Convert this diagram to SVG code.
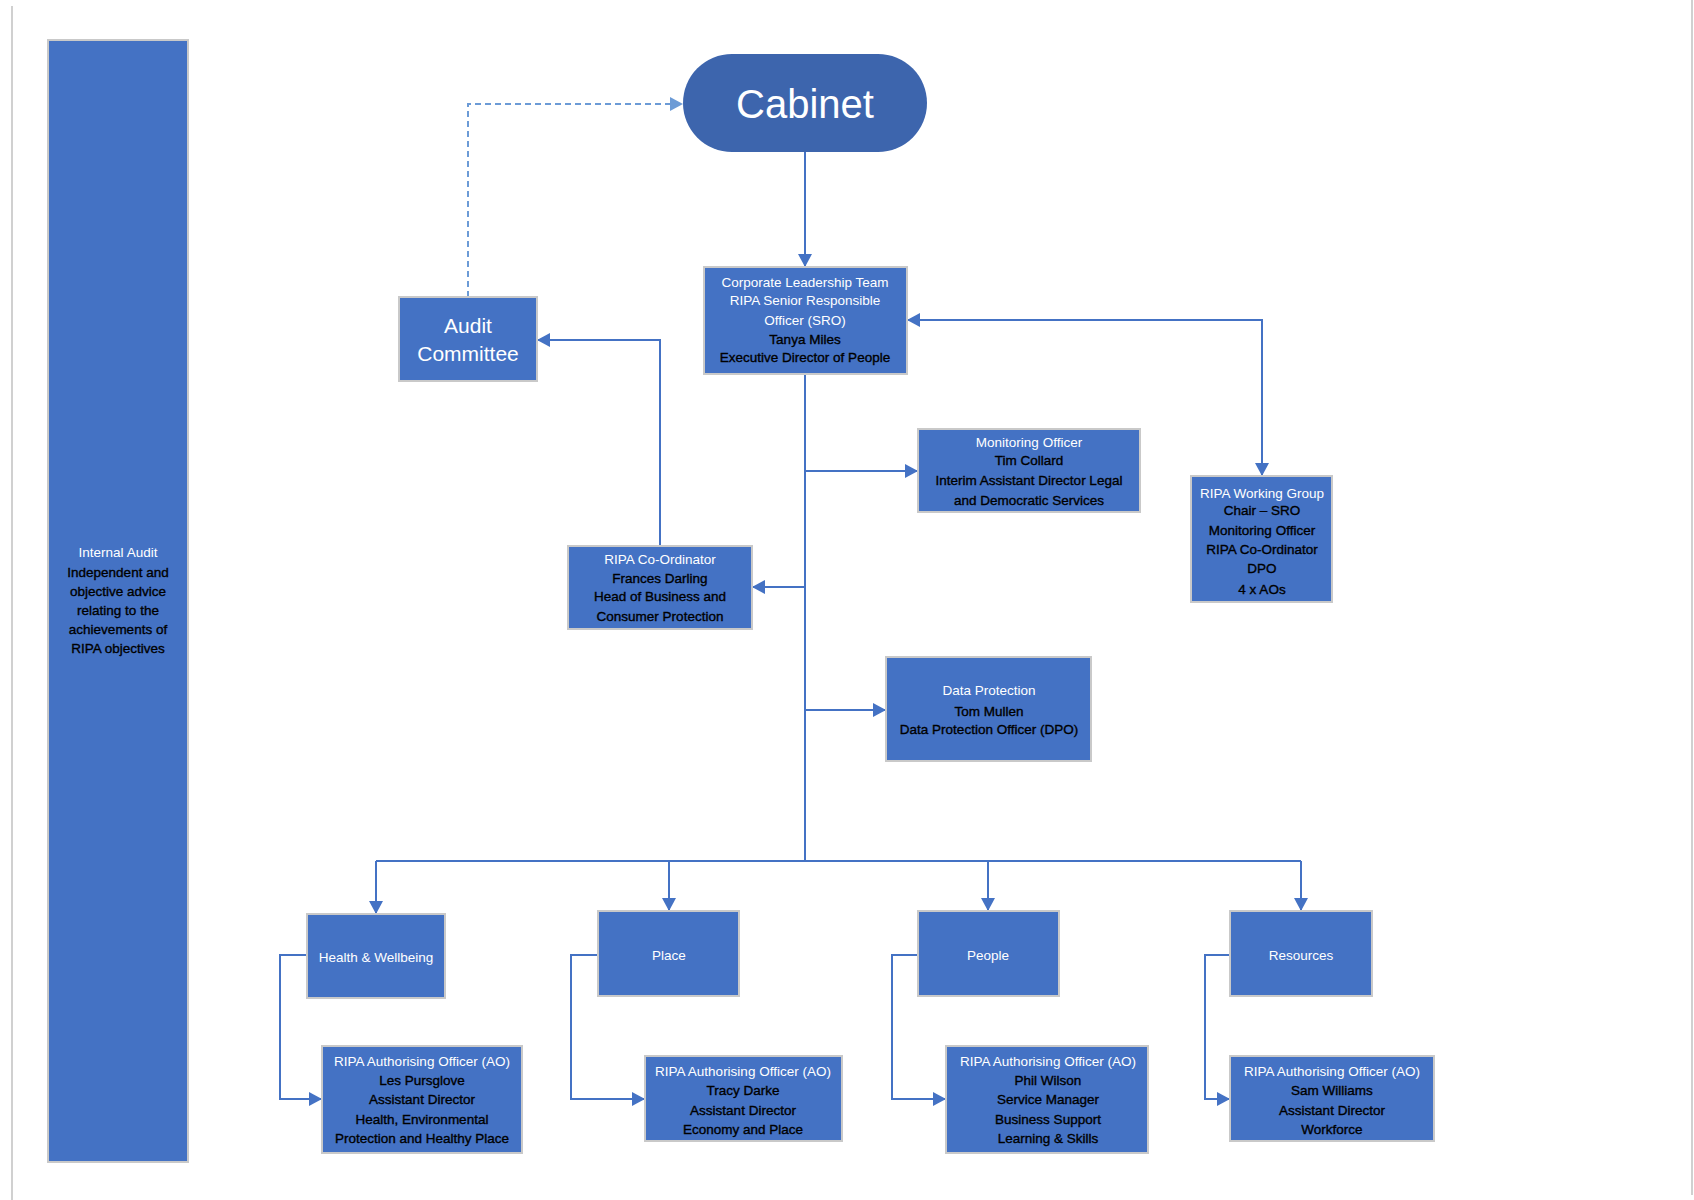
<svg xmlns="http://www.w3.org/2000/svg" width="1694" height="1200" viewBox="0 0 1694 1200">
<style>
.box{fill:#4472C4;stroke:#C9C9C9;stroke-width:2}
.cab{fill:#3D65AD;stroke:none}
.t{font-family:"Liberation Sans",Arial,sans-serif;font-size:13.5px;text-anchor:middle}
.w{fill:#FFFFFF}
.k{fill:#000000;stroke:#000000;stroke-width:0.35}
.con{fill:none;stroke:#4472C4;stroke-width:2}
.dash{fill:none;stroke:#6C9BD6;stroke-width:2;stroke-dasharray:6 4}
.edge{stroke:#D0D0D0;stroke-width:2}
</style>
<defs>
<marker id="arr" markerUnits="userSpaceOnUse" markerWidth="14" markerHeight="14" viewBox="0 0 14 14" refX="13" refY="7" orient="auto-start-reverse">
<path d="M0,0 L13,7 L0,14 Z" fill="#4472C4"/>
</marker>
<marker id="arrL" markerUnits="userSpaceOnUse" markerWidth="14" markerHeight="14" viewBox="0 0 14 14" refX="13" refY="7" orient="auto">
<path d="M0,0 L13,7 L0,14 Z" fill="#6C9BD6"/>
</marker>
</defs>
<rect width="1694" height="1200" fill="#FFFFFF"/>
<line class="edge" x1="12" y1="6" x2="12" y2="1200"/>
<line class="edge" x1="1692" y1="0" x2="1692" y2="1195"/>

<g id="connectors">
<path class="con" d="M805 152 L805 267" marker-end="url(#arr)"/>
<path class="con" d="M907 320 L1262 320 L1262 476" marker-start="url(#arr)" marker-end="url(#arr)"/>
<path class="con" d="M805 374 L805 861"/>
<path class="con" d="M805 471 L918 471" marker-end="url(#arr)"/>
<path class="con" d="M805 587 L752 587" marker-end="url(#arr)"/>
<path class="con" d="M805 710 L886 710" marker-end="url(#arr)"/>
<path class="con" d="M376 861 L1301 861"/>
<path class="con" d="M376 861 L376 914" marker-end="url(#arr)"/>
<path class="con" d="M669 861 L669 911" marker-end="url(#arr)"/>
<path class="con" d="M988 861 L988 911" marker-end="url(#arr)"/>
<path class="con" d="M1301 861 L1301 911" marker-end="url(#arr)"/>
<path class="con" d="M660 546 L660 340 L537 340" marker-end="url(#arr)"/>
<path class="dash" d="M468 297 L468 104 L683 104" marker-end="url(#arrL)"/>
<path class="con" d="M307 955 L280 955 L280 1099 L322 1099" marker-end="url(#arr)"/>
<path class="con" d="M598 955 L571 955 L571 1099 L645 1099" marker-end="url(#arr)"/>
<path class="con" d="M918 955 L892 955 L892 1099 L946 1099" marker-end="url(#arr)"/>
<path class="con" d="M1230 955 L1205 955 L1205 1099 L1230 1099" marker-end="url(#arr)"/>
</g>

<g id="internal-audit">
<rect class="box" x="48" y="40" width="140" height="1122"/>
<text class="t w" x="118" y="557">Internal Audit</text>
<text class="t k" x="118" y="577">Independent and</text>
<text class="t k" x="118" y="596">objective advice</text>
<text class="t k" x="118" y="615">relating to the</text>
<text class="t k" x="118" y="634">achievements of</text>
<text class="t k" x="118" y="653">RIPA objectives</text>
</g>

<g id="cabinet">
<rect class="cab" x="683" y="54" width="244" height="98" rx="49" ry="49"/>
<text x="805" y="118" font-family="Liberation Sans,Arial,sans-serif" font-size="40" fill="#FFFFFF" text-anchor="middle">Cabinet</text>
</g>

<g id="audit-committee">
<rect class="box" x="399" y="297" width="138" height="84"/>
<text x="468" y="333" font-family="Liberation Sans,Arial,sans-serif" font-size="21" fill="#FFFFFF" text-anchor="middle">Audit</text>
<text x="468" y="361" font-family="Liberation Sans,Arial,sans-serif" font-size="21" fill="#FFFFFF" text-anchor="middle">Committee</text>
</g>

<g id="clt">
<rect class="box" x="704" y="267" width="203" height="107"/>
<text class="t w" x="805" y="287">Corporate Leadership Team</text>
<text class="t w" x="805" y="305">RIPA Senior Responsible</text>
<text class="t w" x="805" y="325">Officer (SRO)</text>
<text class="t k" x="805" y="344">Tanya Miles</text>
<text class="t k" x="805" y="362">Executive Director of People</text>
</g>

<g id="monitoring-officer">
<rect class="box" x="918" y="429" width="222" height="83"/>
<text class="t w" x="1029" y="447">Monitoring Officer</text>
<text class="t k" x="1029" y="465">Tim Collard</text>
<text class="t k" x="1029" y="485">Interim Assistant Director Legal</text>
<text class="t k" x="1029" y="505">and Democratic Services</text>
</g>

<g id="ripa-working-group">
<rect class="box" x="1191" y="476" width="141" height="126"/>
<text class="t w" x="1262" y="498">RIPA Working Group</text>
<text class="t k" x="1262" y="515">Chair – SRO</text>
<text class="t k" x="1262" y="535">Monitoring Officer</text>
<text class="t k" x="1262" y="554">RIPA Co-Ordinator</text>
<text class="t k" x="1262" y="573">DPO</text>
<text class="t k" x="1262" y="594">4 x AOs</text>
</g>

<g id="ripa-coordinator">
<rect class="box" x="568" y="546" width="184" height="83"/>
<text class="t w" x="660" y="564">RIPA Co-Ordinator</text>
<text class="t k" x="660" y="583">Frances Darling</text>
<text class="t k" x="660" y="601">Head of Business and</text>
<text class="t k" x="660" y="621">Consumer Protection</text>
</g>

<g id="data-protection">
<rect class="box" x="886" y="657" width="205" height="104"/>
<text class="t w" x="989" y="695">Data Protection</text>
<text class="t k" x="989" y="716">Tom Mullen</text>
<text class="t k" x="989" y="734">Data Protection Officer (DPO)</text>
</g>

<g id="health-wellbeing">
<rect class="box" x="307" y="914" width="138" height="84"/>
<text class="t w" x="376" y="962">Health &amp; Wellbeing</text>
</g>

<g id="place">
<rect class="box" x="598" y="911" width="141" height="85"/>
<text class="t w" x="669" y="960">Place</text>
</g>

<g id="people">
<rect class="box" x="918" y="911" width="141" height="85"/>
<text class="t w" x="988" y="960">People</text>
</g>

<g id="resources">
<rect class="box" x="1230" y="911" width="142" height="85"/>
<text class="t w" x="1301" y="960">Resources</text>
</g>

<g id="ao-health">
<rect class="box" x="322" y="1046" width="200" height="107"/>
<text class="t w" x="422" y="1066">RIPA Authorising Officer (AO)</text>
<text class="t k" x="422" y="1085">Les Pursglove</text>
<text class="t k" x="422" y="1104">Assistant Director</text>
<text class="t k" x="422" y="1124">Health, Environmental</text>
<text class="t k" x="422" y="1143">Protection and Healthy Place</text>
</g>

<g id="ao-place">
<rect class="box" x="645" y="1056" width="197" height="85"/>
<text class="t w" x="743" y="1076">RIPA Authorising Officer (AO)</text>
<text class="t k" x="743" y="1095">Tracy Darke</text>
<text class="t k" x="743" y="1115">Assistant Director</text>
<text class="t k" x="743" y="1134">Economy and Place</text>
</g>

<g id="ao-people">
<rect class="box" x="946" y="1046" width="202" height="107"/>
<text class="t w" x="1048" y="1066">RIPA Authorising Officer (AO)</text>
<text class="t k" x="1048" y="1085">Phil Wilson</text>
<text class="t k" x="1048" y="1104">Service Manager</text>
<text class="t k" x="1048" y="1124">Business Support</text>
<text class="t k" x="1048" y="1143">Learning &amp; Skills</text>
</g>

<g id="ao-resources">
<rect class="box" x="1230" y="1056" width="204" height="85"/>
<text class="t w" x="1332" y="1076">RIPA Authorising Officer (AO)</text>
<text class="t k" x="1332" y="1095">Sam Williams</text>
<text class="t k" x="1332" y="1115">Assistant Director</text>
<text class="t k" x="1332" y="1134">Workforce</text>
</g>
</svg>
